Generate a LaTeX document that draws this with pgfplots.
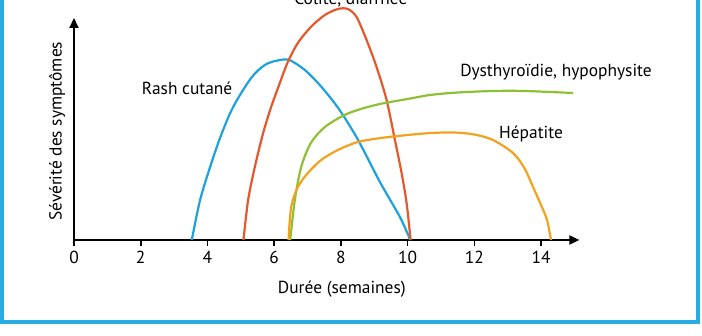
\documentclass[border=0pt]{standalone}
\usepackage{pgfplots}
\pgfplotsset{compat=1.18}
\usetikzlibrary{arrows.meta}
\usepackage{fontspec}
\setmainfont{PT Sans}
\definecolor{cblue}{RGB}{30,162,222}
\definecolor{cred}{RGB}{230,88,44}
\definecolor{cgreen}{RGB}{142,192,52}
\definecolor{corange}{RGB}{242,162,30}
\definecolor{frameblue}{RGB}{40,172,228}
\newcommand{\lbl}{\fontsize{8.7}{10.4}\selectfont}
\begin{document}
\begin{tikzpicture}
\clip (-37pt,-48pt) rectangle (314pt,120pt);
\draw[frameblue, line width=1.6pt] (-36pt,125pt) -- (-36pt,-41pt) -- (312pt,-41pt) -- (312pt,125pt);
\begin{axis}[
  anchor=origin, at={(0pt,0pt)},
  x=16.68pt, y=0.5pt,
  xmin=0, xmax=15.15, ymin=0, ymax=222,
  axis lines=left,
  axis line style={line width=0.9pt, black, -{Triangle[length=5pt,width=4.5pt]}},
  xtick={0,2,...,14}, ytick=\empty,
  tick align=outside, major tick length=3pt,
  xtick style={black, line width=0.8pt},
  /pgf/number format/assume math mode=true,
  tick label style={font=\lbl},
  xticklabel style={yshift=1pt},
  xlabel={Durée (semaines)},
  ylabel={Sévérité des symptômes},
  x label style={at={(axis description cs:0.53,0)}, anchor=center, yshift=-24.5pt, font=\lbl},
  y label style={at={(axis description cs:0,0.49)}, anchor=center, yshift=8.5pt, font=\lbl},
  clip=false,
  every axis plot/.append style={line width=1.1pt, smooth, no markers},
]
\addplot[cblue] coordinates {(3.53,0) (3.78,40) (4.08,73) (4.4,104) (4.77,133) (5.31,162) (5.72,175) (6.1,179.5) (6.45,180) (6.92,170) (7.42,153) (7.94,131) (8.5,101) (9.17,58) (9.77,23) (10.08,0)};
\addplot[cred] coordinates {(5.08,0) (5.22,40) (5.42,73) (5.67,107) (5.91,133) (6.17,157) (6.41,178) (6.71,197) (7.10,213) (7.52,225) (7.91,231) (8.21,231) (8.47,223) (8.77,200) (9.07,173) (9.37,140) (9.62,100) (9.82,67) (9.97,37) (10.09,0)};
\addplot[cgreen] coordinates {(6.48,0) (6.62,40) (6.81,73) (7.10,97) (7.52,113) (8.11,125) (8.6,131) (9.17,136) (10.0,141) (10.67,145) (11.5,147.5) (12.56,149) (13.5,149) (14.96,147)};
\addplot[corange] coordinates {(6.43,0) (6.51,33) (6.71,53) (7.01,67) (7.41,80) (7.91,90) (8.51,98) (9.2,102) (10.0,105) (10.7,107) (11.4,107.5) (12.0,105.5) (12.56,100) (13.16,87) (13.5,72) (13.76,53) (14.0,35) (14.18,20) (14.3,0)};
\node[font=\lbl] at (axis cs:3.39,152) {Rash cutané};
\node[font=\lbl] at (axis cs:14.45,168) {Dysthyroïdie, hypophysite};
\node[font=\lbl] at (axis cs:13.70,106) {Hépatite};
\node[font=\lbl, anchor=base] at (axis cs:8.30,235) {Colite, diarrhée};
\end{axis}
\end{tikzpicture}
\end{document}
